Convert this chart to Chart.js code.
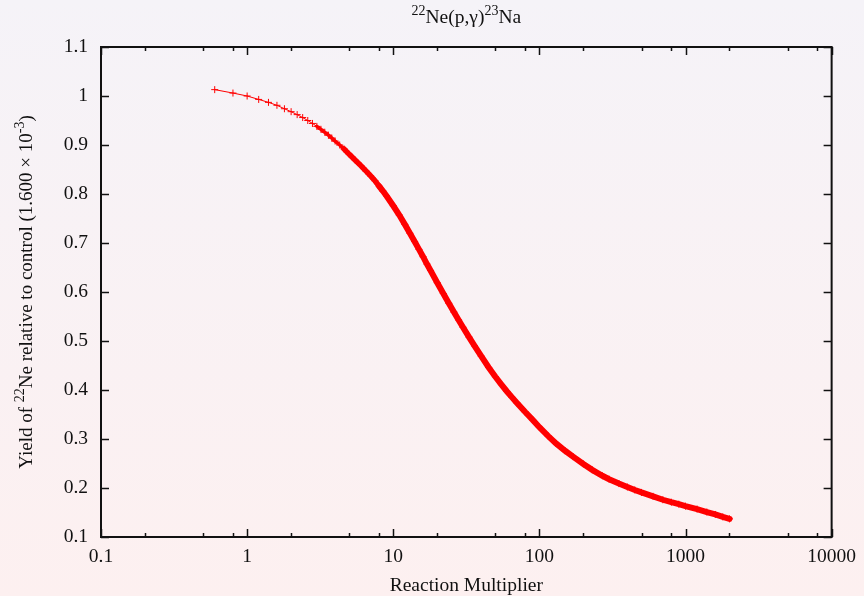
<!DOCTYPE html>
<html>
<head>
<meta charset="utf-8">
<script src="https://cdn.jsdelivr.net/npm/chart.js@4/dist/chart.umd.min.js"></script>
<style>
  body { margin: 0; background: #fbf1f3; }
  #wrap { width: 864px; height: 596px; }
</style>
</head>
<body>
<div id="wrap"><canvas id="chart" width="864" height="596"></canvas></div>
<script>
// reaction multiplier (x) and yield relative to control (y)
let multiplier = [
  0.6, 0.8, 1.0, 1.2, 1.4, 1.6, 1.8, 2.0, 2.2, 2.4, 2.6, 2.8, 3.0, 3.2, 3.4, 3.6, 3.8, 4.0,
  4.3, 4.6, 5.0, 5.5, 6.0, 6.5, 7.0, 7.5, 8.0, 8.5, 9.0, 10, 11, 12, 13, 14, 15, 16, 17, 18,
  20, 22, 24, 26, 28, 30, 33, 36, 40, 45, 50, 55, 60, 65, 70, 80, 90, 100, 115, 130, 150,
  170, 200, 230, 270, 300, 350, 400, 450, 500, 600, 700, 800, 900, 1000, 1200, 1400, 1600,
  1800, 2000
];
let yieldRel = [
  1.013, 1.006, 1.000, 0.993, 0.987, 0.981, 0.974, 0.968, 0.962, 0.956, 0.950, 0.944, 0.938,
  0.932, 0.926, 0.920, 0.914, 0.908,
  0.900, 0.892, 0.881, 0.869, 0.858, 0.847, 0.837, 0.827, 0.816, 0.806, 0.796, 0.776, 0.757,
  0.738, 0.720, 0.703, 0.687, 0.672, 0.657, 0.644,
  0.619, 0.597, 0.577, 0.559, 0.543, 0.528, 0.508, 0.490, 0.469, 0.446, 0.427, 0.411, 0.397,
  0.385, 0.374, 0.355, 0.339, 0.324, 0.306, 0.291, 0.276,
  0.264, 0.249, 0.237, 0.225, 0.218, 0.209, 0.202, 0.196, 0.191, 0.183, 0.176, 0.171, 0.167,
  0.163, 0.157, 0.151, 0.146,
  0.141, 0.137
];

let xTicks = [0.1, 1, 10, 100, 1000, 10000];
let xMinorTicks = [0.2, 0.5, 0.8, 2, 5, 8, 20, 50, 80, 200, 500, 800, 2000, 5000, 8000];
let yTicks = [0.1, 0.2, 0.3, 0.4, 0.5, 0.6, 0.7, 0.8, 0.9, 1.0, 1.1];

let serif = "'Liberation Serif', 'DejaVu Serif', serif";

// title pieces, sup = superscript
let titleParts = [
  { t: "22", sup: true }, { t: "Ne(p,\u03b3)" }, { t: "23", sup: true }, { t: "Na" }
];
let yTitleParts = [
  { t: "Yield of " }, { t: "22", sup: true }, { t: "Ne relative to control (1.600 \u00d7 10" },
  { t: "-3", sup: true }, { t: ")" }
];
let xTitle = "Reaction Multiplier";

// draw text with superscripts, centred on cx, baseline y
function richText(ctx, parts, cx, y, size) {
  let supSize = Math.round(size * 0.72);
  let widths = parts.map((p) => {
    ctx.font = (p.sup ? supSize : size) + "px " + serif;
    return ctx.measureText(p.t).width;
  });
  let total = widths.reduce((a, b) => a + b, 0);
  let x = cx - total / 2;
  parts.forEach((p, i) => {
    ctx.font = (p.sup ? supSize : size) + "px " + serif;
    ctx.fillText(p.t, x, p.sup ? y - size * 0.42 : y);
    x += widths[i];
  });
}

const backdrop = {
  id: "backdrop",
  beforeDraw(chart) {
    let ctx = chart.ctx;
    let g = ctx.createLinearGradient(0, 0, 0, chart.height);
    g.addColorStop(0, "#f5f3f8");
    g.addColorStop(1, "#fdf0f0");
    ctx.save();
    ctx.fillStyle = g;
    ctx.fillRect(0, 0, chart.width, chart.height);
    ctx.restore();
  },
};

const frame = {
  id: "frame",
  afterDraw(chart) {
    let ctx = chart.ctx;
    let a = chart.chartArea;
    let xs = chart.scales.x;
    let ys = chart.scales.y;
    ctx.save();
    ctx.strokeStyle = "#111";
    ctx.lineWidth = 1.5;
    ctx.beginPath();
    xTicks.forEach((v) => {
      let px = Math.round(xs.getPixelForValue(v)) + 0.5;
      ctx.moveTo(px, a.bottom); ctx.lineTo(px, a.bottom - 8);
      ctx.moveTo(px, a.top); ctx.lineTo(px, a.top + 8);
    });
    xMinorTicks.forEach((v) => {
      let px = Math.round(xs.getPixelForValue(v)) + 0.5;
      ctx.moveTo(px, a.bottom); ctx.lineTo(px, a.bottom - 4);
      ctx.moveTo(px, a.top); ctx.lineTo(px, a.top + 4);
    });
    yTicks.forEach((v) => {
      let py = Math.round(ys.getPixelForValue(v)) + 0.5;
      ctx.moveTo(a.left, py); ctx.lineTo(a.left + 8, py);
      ctx.moveTo(a.right, py); ctx.lineTo(a.right - 8, py);
    });
    ctx.stroke();
    ctx.lineWidth = 2;
    ctx.strokeRect(a.left, a.top, a.right - a.left, a.bottom - a.top);

    // titles
    ctx.fillStyle = "#111";
    ctx.textBaseline = "alphabetic";
    ctx.textAlign = "left";
    richText(ctx, titleParts, (a.left + a.right) / 2, 23, 19.5);
    ctx.font = "19.5px " + serif;
    ctx.textAlign = "center";
    ctx.fillText(xTitle, (a.left + a.right) / 2, 591);
    ctx.textAlign = "left";
    ctx.translate(32, (a.top + a.bottom) / 2);
    ctx.rotate(-Math.PI / 2);
    richText(ctx, yTitleParts, 0, 0, 19);
    ctx.restore();
  },
};

const config = {
  type: "scatter",
  data: {
    datasets: [
      {
        data: multiplier.map((m, i) => ({ x: m, y: yieldRel[i] })),
        showLine: true,
        borderColor: "#ff0000",
        backgroundColor: "#ff0000",
        pointStyle: "cross",
        pointRadius: 3.5,
        pointBorderWidth: 1,
        pointBorderColor: "#ff0000",
        borderWidth: 1,
        segment: {
          // points crowd together at high multipliers and merge into a band
          borderWidth: (ctx) => {
            let m = multiplier[ctx.p0DataIndex];
            if (m < 3) return 1;
            if (m < 4.5) return 3.5;
            if (m < 8) return 5.5;
            return 6;
          },
          borderCapStyle: "round",
        },
      },
    ],
  },
  options: {
    responsive: false,
    animation: false,
    devicePixelRatio: 1,
    layout: {
      autoPadding: false,
      padding: { top: 47, right: 30, left: 0, bottom: 0 },
    },
    scales: {
      x: {
        type: "logarithmic",
        min: 0.1,
        max: 10000,
        afterFit: (scale) => { scale.height = 59; },
        afterBuildTicks: (scale) => { scale.ticks = xTicks.map((v) => ({ value: v })); },
        grid: { display: false, drawTicks: false },
        border: { display: false },
        ticks: {
          color: "#111",
          padding: 8,
          maxRotation: 0,
          font: { family: serif, size: 19.5 },
          callback: (v) => String(v),
        },
      },
      y: {
        type: "linear",
        min: 0.1,
        max: 1.1,
        afterFit: (scale) => { scale.width = 101; },
        afterBuildTicks: (scale) => { scale.ticks = yTicks.map((v) => ({ value: v })); },
        grid: { display: false, drawTicks: false },
        border: { display: false },
        ticks: {
          color: "#111",
          padding: 13,
          font: { family: serif, size: 19.5 },
          callback: (v) => String(Number(v.toFixed(1))),
        },
      },
    },
    plugins: {
      legend: { display: false },
      tooltip: { enabled: false },
      title: { display: false },
    },
  },
  plugins: [backdrop, frame],
};

let chart = new Chart(document.getElementById("chart"), config);
</script>
</body>
</html>
